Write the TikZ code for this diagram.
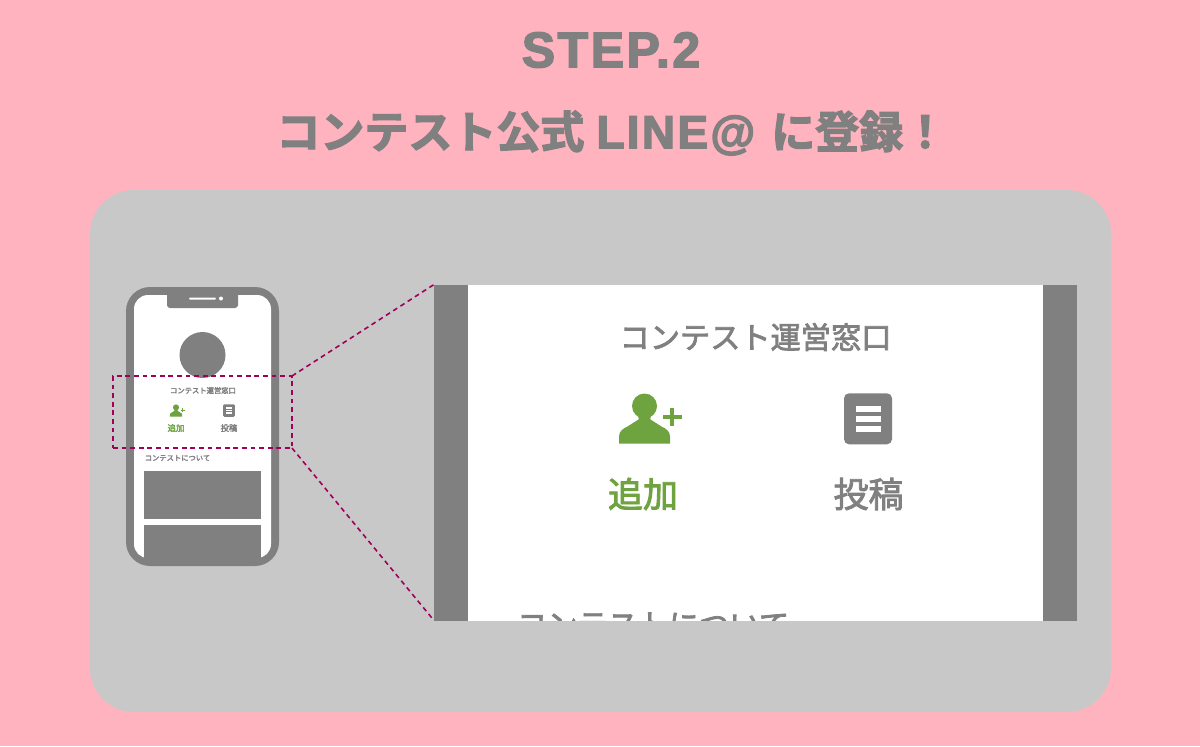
\documentclass[tikz,border=0pt]{standalone}
\usepackage{fontspec}
\newfontfamily\jpfont[FakeBold=2.5]{Noto Sans CJK JP}
\newfontfamily\jpheavy[FakeBold=3]{Noto Sans CJK JP Bold}
\newfontfamily\latinfont[FakeBold=3,LetterSpace=5]{Liberation Sans Bold}
\definecolor{pagepink}{HTML}{FFB3BE}
\definecolor{cardgray}{HTML}{C8C8C8}
\definecolor{inkgray}{HTML}{808080}
\definecolor{addgreen}{HTML}{6EA33F}
\definecolor{cropline}{HTML}{A0005A}
\tikzset{
    plate/.style={rectangle,draw=none,inner sep=0pt,outer sep=0pt},
    label/.style={inner sep=0pt,text=inkgray,font=\jpfont},
    heading/.style={inner sep=0pt,text=inkgray},
    crop/.style={draw=cropline,line width=.8pt,dash pattern=on 2.4pt off 1.9pt},
    personicon/.pic={
        \fill (0,-12.5) circle (12.5);
        \fill (-25.5,25) -- (25.5,25) -- (25.5,18) to[out=90,in=-25] (17,8) -- (6,1)
            to[out=150,in=-70] (6.5,-3) -- (-6.5,-3) to[out=-110,in=30] (-6,1) -- (-17,8)
            to[out=205,in=90] (-25.5,18) -- cycle;
        \fill (18.5,-3.8) rectangle (37,.2);
        \fill (25.8,-11) rectangle (29.8,7.4);
    },
    docicon/.pic={
        \fill[rounded corners=#1] (-24,-25.5) rectangle (24,25.5);
        \fill[white] (-12,-13) rectangle (12.5,-6.5);
        \fill[white] (-12,-2.5) rectangle (12.5,3.5);
        \fill[white] (-12,7.5) rectangle (12.5,13.5);
    }
}
\begin{document}
\begin{tikzpicture}[x=.5pt,y=-.5pt]
    \useasboundingbox (0,0) rectangle (1200,746);
    \fill[pagepink] (0,0) rectangle (1200,746);
    \fill[cardgray,rounded corners=22pt] (90,190) rectangle (1111,712);

    \node[heading,font=\latinfont\fontsize{25}{28}\selectfont] (steptitle) at (611,50) {STEP.2};
    \node[heading,anchor=west,font=\jpheavy\fontsize{22}{26}\selectfont] (linetitle) at (276,133)
        {コンテスト公式\hspace{6pt}{\latinfont\fontsize{23}{26}\selectfont LINE@}\hspace{8pt}に登録！};

    % phone
    \node[plate,fill=inkgray,rounded corners=12pt,minimum width=76.5pt,minimum height=139.5pt] (phone) at (202.5,426.5) {};
    \node[plate,fill=white,rounded corners=7pt,minimum width=68.5pt,minimum height=131.5pt] (screen) at (202.5,426.5) {};
    \fill[inkgray,rounded corners=1.5pt] (167,290) rectangle (238,308);
    \fill[white,rounded corners=.5pt] (189,297.5) rectangle (216,299.5);
    \fill[white] (221,298.5) circle (2);
    \node[plate,fill=inkgray,circle,minimum size=23pt] (avatar) at (202.5,355) {};
    \node[label,font=\jpfont\fontsize{3.65}{4}\selectfont] (smalltitle) at (203,390.5) {コンテスト運営窓口};
    \pic[addgreen,scale=.245] at (176,410.5) {personicon};
    \pic[inkgray,scale=.245] at (229,410.5) {docicon=.6pt};
    \node[label,text=addgreen,font=\jpfont\fontsize{4.2}{5}\selectfont] (smalladd) at (176,428) {追加};
    \node[label,font=\jpfont\fontsize{4.2}{5}\selectfont] (smallpost) at (229,428) {投稿};
    \node[label,font=\jpfont\fontsize{3.65}{4}\selectfont] (smallabout) at (177.5,458) {コンテストについて};
    \node[plate,fill=inkgray,minimum width=58.5pt,minimum height=24pt] (photoa) at (202.5,495) {};
    \node[plate,fill=inkgray,minimum width=58.5pt,minimum height=20pt] (photob) at (202.5,545) {};

    % enlarged part
    \node[plate,fill=inkgray,minimum width=321.5pt,minimum height=168pt] (panel) at (755.5,452.5) {};
    \node[plate,fill=white,minimum width=287.5pt,minimum height=168pt] (sheet) at (755.5,452.5) {};
    \node[label,font=\jpfont\fontsize{15.1}{18}\selectfont] (bigtitle) at (755.5,337) {コンテスト運営窓口};
    \pic[addgreen] at (644.5,418.5) {personicon};
    \pic[inkgray] at (868,418.8) {docicon=2.5pt};
    \node[label,text=addgreen,font=\jpfont\fontsize{17.5}{20}\selectfont] (bigadd) at (643,494) {追加};
    \node[label,font=\jpfont\fontsize{17.5}{20}\selectfont] (bigpost) at (868.5,494) {投稿};
    \begin{scope}
        \clip (468,285) rectangle (1043,620.5);
        \node[label,font=\jpfont\fontsize{15.2}{18}\selectfont] (bigabout) at (653,625) {コンテストについて};
    \end{scope}

    % crop frame and its two lines
    \node[plate,crop,draw=cropline,minimum width=89.5pt,minimum height=36pt] (frame) at (202.5,412) {};
    \draw[crop] (frame.north east) -- (panel.north west);
    \draw[crop] (frame.south east) -- (panel.south west);
\end{tikzpicture}
\end{document}
